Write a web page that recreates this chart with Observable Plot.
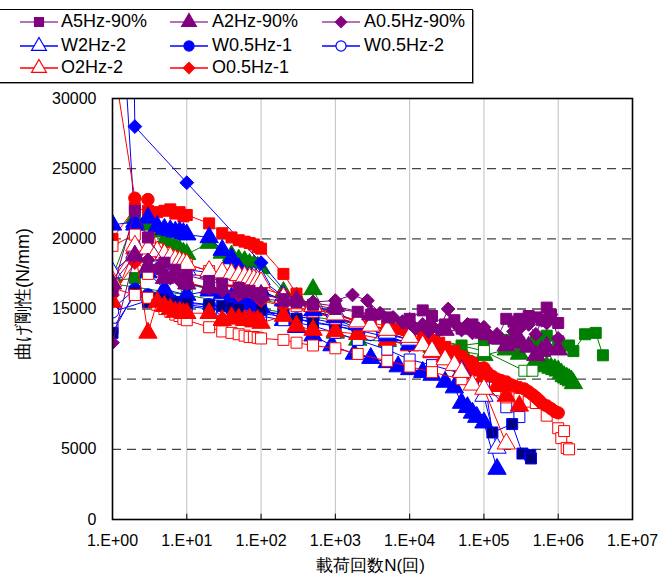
<!DOCTYPE html>
<html><head><meta charset="utf-8">
<script src="https://cdn.jsdelivr.net/npm/d3@7"></script>
<script src="https://cdn.jsdelivr.net/npm/@observablehq/plot@0.6"></script>
<style>
body{margin:0;background:#fff;font-family:"Liberation Sans",Arial,sans-serif;}
#wrap{position:relative;width:661px;height:586px;overflow:hidden;background:#fff}
#chart{position:absolute;left:0;top:0}
#legend{position:absolute;left:-2px;top:9px;width:473px;height:72px;border:1px solid #000;background:#fff;box-shadow:1px 1px 0 #999}
.item{position:absolute;height:22px;line-height:22px;font-size:18px;white-space:nowrap;color:#000}
.icon{position:absolute;top:1px}
</style></head><body>
<div id="wrap"><div id="chart"></div><div id="legend"></div></div>
<script>
// ---------- data (N = load cycles, S = bending stiffness N/mm) ----------
const xTicks = [1, 10, 100, 1000, 10000, 100000, 1000000, 10000000];
const yTicks = [0, 5000, 10000, 15000, 20000, 25000, 30000];
const gridY = [5000, 10000, 15000, 20000, 25000];
const gridX = [10, 100, 1000, 10000, 100000, 1000000];
const xTitle = "載荷回数N(回)";
const yTitle = "曲げ剛性(N/mm)";

// legend series
const A5Hz_N = [1,2,3,5,7,10,20,30,50,70,100,200,300,500,1000,2000,3000,5000,10000,15000,20000,30000,40000,50000,70000,100000,150000,200000,250000,300000,400000,500000,600000,700000,800000,1000000];
const A5Hz_S = [16300,22000,20100,18300,17800,17400,17000,16800,16500,16300,16100,15700,15500,15300,15000,14800,14600,14400,14300,14900,14500,13900,14200,13600,13900,13200,12900,14300,14100,14300,14500,14400,14200,15100,14600,14000];
const A2Hz_N = [1,2,3,5,10,20,50,100,300,1000,3000,10000,30000,100000,150000,200000,250000,300000,400000,500000,600000,700000,1000000];
const A2Hz_S = [16800,18800,18000,17200,16800,16500,16200,16000,15600,15200,14600,14000,13500,13300,12900,12400,12600,12800,12300,11700,12000,12300,12100];
const A05Hz_N = [1,2,3,4,5,6,8,10,20,30,50,100,200,500,1000,1700,2700,4000,6000,8000,10000,12000,15000,18000,20000,25000,33000,40000,50000,60000,70000,85000,100000,120000,150000,200000,250000,300000,400000,500000,600000,700000,800000,1000000];
const A05Hz_S = [12600,18800,18500,17900,17500,17200,17000,16800,16500,16300,16100,15700,15600,15500,15600,16000,15600,14700,14400,14100,14000,13600,13900,13400,13800,13500,15000,14000,13500,13900,13300,13600,13700,13100,13200,12700,13400,13600,13900,13200,14200,14000,14600,12900];
const W2Hz2_N = [1,2,3,5,7,10,20,30,40,50,60,70,80,90,100,200,300,500,1000,2000,5000,10000,20000,50000,100000,150000];
const W2Hz2_S = [17600,19000,18800,18200,17900,17800,17600,17500,17500,17400,17400,17300,17300,17200,17100,15900,15500,15200,14800,14000,13300,12800,12000,10600,8800,5100];
const W05Hz1_N = [1,2,3,5,10,20,50,100,200,500,1000,2000,5000,10000,20000];
const W05Hz1_S = [15000,16400,16000,15700,15500,15300,15000,14800,14600,14300,14000,13600,13200,12800,12400];
const W05Hz2_N = [1,3,10,30,100,300,1000,3000,10000,30000];
const W05Hz2_S = [14800,15600,15300,15000,14700,14300,13800,13200,12600,11800];
const O2Hz2_N = [1,2,3,4,5,6,7,8,9,10,20,30,40,50,60,70,80,90,100,200,300,500,1000,2000,3000,5000,10000,15000,20000,30000,40000,50000,70000,100000,200000];
const O2Hz2_S = [17000,19500,19300,19100,18900,18700,18500,18400,18300,18200,17700,17600,17500,17400,17300,17200,17100,17000,16900,15800,15400,15200,14600,14100,13800,13500,13000,12400,12000,11400,11000,10500,9600,9300,5400];
const O05Hz1_N = [1,2,3,5,10,20,50,100,200,500,1000,2000,5000,10000,20000,50000,100000];
const O05Hz1_S = [16000,18300,17800,17300,16900,16500,16000,15600,15200,14800,14400,14000,13600,13200,12600,11500,10200];

// other series shown in the plot
const Gsq_N = [1,2,3,5,10,20,50,100,200,500,1000,2000,5000,10000,20000,50000,100000,150000,200000,300000,500000,700000,1000000,1400000,1600000,2300000,3200000,4000000];
const Gsq_S = [17000,17200,17800,17300,16800,16400,16000,15700,15300,14900,14400,13800,13400,13000,12700,12400,12600,12900,12800,12600,12700,13100,12700,12400,12000,13200,13300,11700];
const Gtri_N = [1,2,3,4,5,6,7,8,9,10,20,30,40,50,60,70,80,90,100,200,300,500,1000,2000,5000,10000,20000,50000,100000,200000,300000,500000,600000,700000,800000,900000,1000000,1100000,1200000,1300000,1400000,1500000,1600000];
const Gtri_S = [17300,21500,21000,20500,19800,19500,19400,19200,19000,18900,19700,19000,18800,18500,18400,18200,18100,18000,17900,16200,15800,16400,13300,12800,12700,12500,12300,12000,11700,12100,11800,11300,11000,10900,10800,10700,10600,10400,10200,10100,10000,9900,9700];
const GsqO_N = [1,10,100,1000,10000,100000,350000,450000];
const GsqO_S = [16800,16000,15000,14200,13300,12000,10600,10600];
const Nsq_N = [1,2,3,4,5,6,7,8,9,10,20,30,40,50,100,200,300,500,1000,2000,5000,10000,20000,50000,100000,130000,240000,330000,420000,430000];
const Nsq_S = [13300,16200,15500,15800,15700,15600,15500,15500,15400,15400,15300,15200,15100,15000,14900,14600,14300,14000,13800,13500,13000,12500,12000,11200,10200,6200,6800,4700,4600,4350];
const Btri_N = [1,2,3,4,5,6,7,8,9,10,20,30,40,50,100,200,500,1000,2000,5000,10000];
const Btri_S = [21000,21200,21500,20900,20700,20600,20500,20500,20400,20300,20100,19200,18600,17900,16300,15600,14900,14400,13900,13100,12500];
const Btri2_N = [1,2,3,5,10,20,30,40,50,60,70,80,90,100,200,300,500,900,1800,3000,5000,7000,10000,15000,20000,30000,40000,50000,60000,70000,80000,100000,150000];
const Btri2_S = [47000,21000,17600,16400,16000,16300,16100,15800,15600,15500,15400,15300,15200,15100,14200,13700,13100,12400,11800,11500,11200,10900,10700,10500,10300,9800,9400,8300,8000,7600,7300,6900,3600];
const Bdia_N = [1.85,2,10,100,300,1000,3000,10000];
const Bdia_S = [40000,28000,24000,18300,15300,14300,13200,12400];
const BsqO_N = [1,2,3,4,5,6,7,8,9,10,20,30,50,100,200,500,1000,2000,5000,10000,20000,50000,100000,200000,300000];
const BsqO_S = [13600,16000,15700,15600,15500,15400,15400,15300,15300,15200,15000,14900,14800,14500,14200,13800,13300,12800,12100,11400,11000,10400,9700,8000,7300];
const Rsq_N = [1,2,3,4,5,6,7,8,9,10,20,30,40,50,60,70,80,90,100,200,300,500,1000,2000,3000,5000,7000,10000,15000,20000,25000,30000,40000,50000,60000,70000,85000,100000];
const Rsq_S = [20000,22200,22000,21900,22000,22100,21800,21900,21600,21700,21100,20400,20100,19900,19800,19700,19600,19400,19300,17500,16100,15000,14600,14200,14000,13800,13600,13500,13200,12800,12600,12300,12000,11600,11300,11000,10800,10600];
const Rci_N = [1,2,3,4,5,6,7,8,9,10,20,30,40,50,60,70,80,90,100,200,500,1000,2000,5000,10000,15000,20000,30000,40000,50000,70000,100000,110000,130000,150000,170000,200000,230000,260000,300000,350000,400000,450000,500000,550000,600000,700000,800000,900000,1000000];
const Rci_S = [33000,22900,22800,19000,18300,18000,17800,17700,17600,17500,17300,17100,17000,16900,16800,16700,16700,16600,16500,16000,15200,14600,14100,13500,12900,12600,12400,12000,11800,11600,11200,10800,10500,10200,10000,9900,9800,9600,9500,9400,9300,9100,8900,8700,8500,8300,8100,7900,7700,7600];
const Rtri_N = [1,2,3,4,5,6,7,8,9,10,20,30,40,50,60,70,80,90,100,200,300,500,1000,2000,5000,10000,20000,30000,50000,70000,100000,150000,200000,300000];
const Rtri_S = [15500,19300,13300,15500,15200,15000,14800,14800,14700,14700,14700,14200,14400,14300,14200,14300,14100,14200,14000,14500,13800,13500,13400,13200,12800,12400,11900,11600,11000,10600,10200,9500,8800,8100];
const RsqO_N = [1,2,3,4,5,6,7,8,9,10,20,30,40,50,100,200,300,500,1000,2000,5000,10000];
const RsqO_S = [19500,20300,17500,19300,19000,18800,18700,18500,18400,18200,17700,17300,17100,16900,16300,15600,15200,14800,14300,13900,13300,12800];
const RsqO2_N = [1,2,3,4,5,6,7,8,9,10,20,30,40,50,60,70,80,90,100,200,300,500,1000,2000,5000,10000,20000,50000,100000,200000,300000,400000,500000,700000,1000000,1100000,1200000,1300000,1400000];
const RsqO2_S = [16500,16000,15800,15300,15000,14800,14600,14500,14300,14200,13700,13400,13300,13200,13100,13000,13000,12950,12900,12800,12600,12400,12200,11800,11300,10900,10500,10000,9000,8700,8600,8400,8300,7400,6500,5800,6300,5100,5000];

// ---------- styles ----------
const PUR = "#800080", BLU = "#0000ff", RED = "#ff0000", GRN = "#008000", NAV = "#000080";
const series = [
  {N: Gsq_N,  S: Gsq_S,  line: GRN, stroke: GRN, fill: GRN, sym: "square"},
  {N: Gtri_N, S: Gtri_S, line: GRN, stroke: GRN, fill: GRN, sym: "triangle"},
  {N: GsqO_N, S: GsqO_S, line: GRN, stroke: GRN, fill: "white", sym: "square"},
  {N: Bdia_N, S: Bdia_S, line: BLU, stroke: BLU, fill: BLU, sym: "diamond2"},
  {N: Btri2_N, S: Btri2_S, line: BLU, stroke: BLU, fill: BLU, sym: "triangle"},
  {N: BsqO_N, S: BsqO_S, line: BLU, stroke: BLU, fill: "white", sym: "square"},
  {N: W05Hz1_N, S: W05Hz1_S, line: BLU, stroke: BLU, fill: BLU, sym: "circle"},
  {N: W05Hz2_N, S: W05Hz2_S, line: BLU, stroke: BLU, fill: "white", sym: "circle"},
  {N: Nsq_N,  S: Nsq_S,  line: BLU, stroke: BLU, fill: NAV, sym: "square"},
  {N: RsqO2_N, S: RsqO2_S, line: RED, stroke: RED, fill: "white", sym: "square"},
  {N: Rtri_N, S: Rtri_S, line: RED, stroke: RED, fill: RED, sym: "triangle"},
  {N: O05Hz1_N, S: O05Hz1_S, line: RED, stroke: RED, fill: RED, sym: "diamond2"},
  {N: Rci_N,  S: Rci_S,  line: RED, stroke: RED, fill: RED, sym: "circle"},
  {N: Rsq_N,  S: Rsq_S,  line: RED, stroke: RED, fill: RED, sym: "square"},
  {N: RsqO_N, S: RsqO_S, line: RED, stroke: RED, fill: "white", sym: "square"},
  {N: Btri_N, S: Btri_S, line: BLU, stroke: BLU, fill: BLU, sym: "triangle"},
  {N: W2Hz2_N, S: W2Hz2_S, line: BLU, stroke: BLU, fill: "white", sym: "triangle"},
  {N: O2Hz2_N, S: O2Hz2_S, line: RED, stroke: RED, fill: "white", sym: "triangle"},
  {N: A2Hz_N, S: A2Hz_S, line: PUR, stroke: PUR, fill: PUR, sym: "triangle"},
  {N: A5Hz_N, S: A5Hz_S, line: PUR, stroke: PUR, fill: PUR, sym: "square"},
  {N: A05Hz_N, S: A05Hz_S, line: PUR, stroke: PUR, fill: PUR, sym: "diamond2"}
];

const legendNames = ["A5Hz-90%","A2Hz-90%","A0.5Hz-90%","W2Hz-2","W0.5Hz-1","W0.5Hz-2","O2Hz-2","O0.5Hz-1"];
const legendStyle = [
  {line: "#a040a0", stroke: PUR, fill: PUR, sym: "square"},
  {line: "#a040a0", stroke: PUR, fill: PUR, sym: "triangle"},
  {line: "#a040a0", stroke: PUR, fill: PUR, sym: "diamond2"},
  {line: BLU, stroke: BLU, fill: "white", sym: "triangle"},
  {line: BLU, stroke: BLU, fill: BLU, sym: "circle"},
  {line: BLU, stroke: BLU, fill: "white", sym: "circle"},
  {line: RED, stroke: RED, fill: "white", sym: "triangle"},
  {line: RED, stroke: RED, fill: RED, sym: "diamond2"}
];

// ---------- chart ----------
const marks = [
  Plot.ruleX(gridX, {stroke: "#c0c0c0", strokeWidth: 1}),
  Plot.ruleY(gridY, {stroke: "#444", strokeWidth: 1.3, strokeDasharray: "9,6"}),
  Plot.ruleX(gridX, {y1: 0, y2: 380, stroke: "#000", strokeWidth: 1})
];
const R = 6.2;
for (const s of series) {
  const data = s.N.map((n, i) => ({n, s: s.S[i]}));
  marks.push(Plot.line(data, {x: "n", y: "s", stroke: s.line, strokeWidth: 1, clip: true}));
  marks.push(Plot.dot(data, {x: "n", y: "s", symbol: s.sym, r: s.sym === "triangle" ? R + 0.6 : R,
    fill: s.fill, stroke: s.stroke, strokeWidth: 1, clip: true}));
}
marks.push(Plot.frame({stroke: "#000", strokeWidth: 1.6}));
marks.push(Plot.axisX(xTicks, {tickSize: 0, tickPadding: 15, fontSize: 16, label: null,
  tickFormat: d => "1.E+" + String(Math.round(Math.log10(d))).padStart(2, "0")}));
marks.push(Plot.axisY(yTicks, {tickSize: 0, tickPadding: 16, fontSize: 16, label: null,
  tickFormat: d => String(d)}));
marks.push(Plot.text([xTitle], {frameAnchor: "bottom", textAnchor: "middle", dy: 51, dx: -2, fontSize: 17}));
marks.push(Plot.text([yTitle], {frameAnchor: "left", textAnchor: "middle", dx: -89, dy: -15, rotate: -90, fontSize: 18}));

const chart = Plot.plot({
  width: 661, height: 586,
  marginLeft: 112, marginRight: 29, marginTop: 98, marginBottom: 67,
  style: {fontFamily: "'Liberation Sans', Arial, sans-serif", fontSize: "16px", background: "#fff", color: "#000"},
  x: {type: "log", domain: [1, 1e7]},
  y: {domain: [0, 30000]},
  marks
});
document.getElementById("chart").appendChild(chart);

// ---------- legend ----------
const leg = document.getElementById("legend");
const colIcon = [21, 171, 323], colText = [62, 213, 365], rowY = [0, 24, 46];
const symMap = {square: d3.symbolSquare, triangle: d3.symbolTriangle, diamond2: d3.symbolDiamond2, circle: d3.symbolCircle};
legendNames.forEach((name, i) => {
  const c = i % 3, r = Math.floor(i / 3), st = legendStyle[i];
  const icon = d3.create("svg").attr("class", "icon").attr("width", 38).attr("height", 20)
    .style("left", colIcon[c] + "px").style("top", (rowY[r] + 2) + "px").style("position", "absolute");
  icon.append("line").attr("x1", 0).attr("x2", 38).attr("y1", 10).attr("y2", 10).attr("stroke", st.line).attr("stroke-width", 1.5);
  icon.append("path").attr("transform", "translate(19,10)")
    .attr("d", d3.symbol(symMap[st.sym], st.sym === "triangle" ? 95 : 80)())
    .attr("fill", st.fill).attr("stroke", st.stroke).attr("stroke-width", 1.2);
  leg.appendChild(icon.node());
  const t = document.createElement("div");
  t.className = "item"; t.textContent = name;
  t.style.left = colText[c] + "px"; t.style.top = rowY[r] + "px";
  leg.appendChild(t);
});
</script>
</body></html>
